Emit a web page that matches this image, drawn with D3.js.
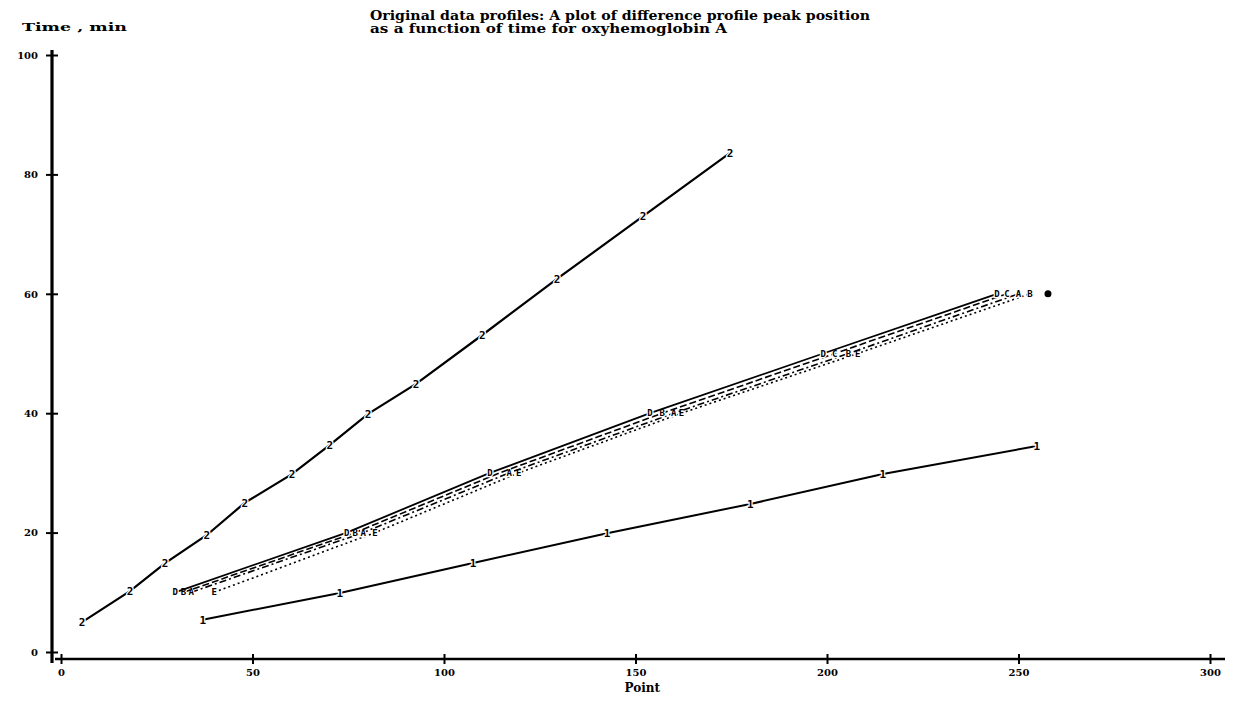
<!DOCTYPE html>
<html>
<head>
<meta charset="utf-8">
<script src="https://cdn.jsdelivr.net/npm/d3@7"></script>
<style>
  body { margin: 0; background: #fff; }
  svg { display: block; }
  .tick text { font-family: "DejaVu Serif", serif; font-weight: bold; font-size: 10px; }
</style>
</head>
<body>
<svg id="chart" width="1236" height="702"></svg>
<script>
// axis ticks
const xTicks = [0, 50, 100, 150, 200, 250, 300]
const yTicks = [0, 20, 40, 60, 80, 100]

// series "1"
const s1X = [37, 72.8, 107.6, 142.6, 180, 214.6, 254.8]
const s1Y = [5.4, 9.9, 14.9, 19.9, 24.8, 29.8, 34.5]

// series "2"
const s2X = [5.5, 18, 27.2, 38.1, 48, 60.3, 70.2, 80.2, 92.7, 110, 129.5, 152, 174.7]
const s2Y = [5, 10.2, 14.9, 19.6, 25, 29.8, 34.7, 39.9, 44.9, 53.1, 62.5, 73, 83.6]

// DBA group: four lines sharing the same times
const dbaY = [10, 20, 30, 40, 50, 60]
const dbaSolidX = [29.8, 74.6, 112, 153.8, 199, 244.4]
const dbaDashX = [32, 76.8, 114.5, 157, 202, 247]
const dbaDashDotX = [34, 78.9, 117, 160, 205.6, 250]
const dbaDotX = [40, 82, 119.5, 162, 208, 253]
const dbaSolidMarks = ["D", "D", "D", "D", "D", "D"]
const dbaDashMarks = ["B", "B", "", "B", "C", "C"]
const dbaDashDotMarks = ["A", "A", "A", "A", "B", "A"]
const dbaDotMarks = ["E", "E", "E", "E", "E", "B"]
const dbaEndDot = [257.7, 60]

const svg = d3.select("#chart")

const x = d3.scaleLinear().domain([0, 300]).range([61, 1210])
const y = d3.scaleLinear().domain([0, 100]).range([652, 55])

// titles
const title = svg.append("g")
  .style("font-family", "'DejaVu Serif', serif")
  .style("font-weight", "bold")
  .style("font-size", "12px")
title.append("text").attr("x", 370).attr("y", 20)
  .attr("textLength", 500).attr("lengthAdjust", "spacingAndGlyphs")
  .text("Original data profiles: A plot of difference profile peak position")
title.append("text").attr("x", 370).attr("y", 33)
  .attr("textLength", 357).attr("lengthAdjust", "spacingAndGlyphs")
  .text("as a function of time for oxyhemoglobin A")

svg.append("text")
  .attr("x", 22).attr("y", 31)
  .attr("textLength", 105).attr("lengthAdjust", "spacingAndGlyphs")
  .style("font-family", "'DejaVu Serif', serif")
  .style("font-weight", "bold")
  .style("font-size", "11px")
  .text("Time , min")

svg.append("text")
  .attr("x", x(150) - 11).attr("y", 692)
  .style("font-family", "'DejaVu Serif', serif")
  .style("font-weight", "bold")
  .style("font-size", "12px")
  .text("Point")

// y axis (drawn left of x = 0)
const yAxisX = 52
const gy = svg.append("g")
  .attr("transform", `translate(${yAxisX},0)`)
  .call(d3.axisLeft(y).tickValues(yTicks).tickSize(6).tickPadding(8))
gy.select(".domain").remove()
gy.selectAll(".tick line").attr("x1", 6).attr("stroke", "#000").attr("stroke-width", 2)
svg.append("line")
  .attr("x1", yAxisX).attr("x2", yAxisX)
  .attr("y1", y(100) - 5).attr("y2", y(0) + 11)
  .attr("stroke", "#000").attr("stroke-width", 3.2)

// x axis (drawn below y = 0)
const xAxisY = 659
const gx = svg.append("g")
  .attr("transform", `translate(0,${xAxisY})`)
  .call(d3.axisBottom(x).tickValues(xTicks).tickSize(5).tickPadding(5))
gx.select(".domain").remove()
gx.selectAll(".tick line").attr("y1", -5).attr("stroke", "#000").attr("stroke-width", 2)
svg.append("line")
  .attr("x1", x(0) - 6).attr("x2", x(300) + 15)
  .attr("y1", xAxisY).attr("y2", xAxisY)
  .attr("stroke", "#000").attr("stroke-width", 2.6)

const line = d3.line().x(d => x(d.x)).y(d => y(d.y))

// a line with a character written at each data point
function drawSeries(xs, ys, marks, dash, width, fontSize) {
  const pts = xs.map((v, i) => ({x: v, y: ys[i], mark: marks[i]}))
  svg.append("path")
    .datum(pts)
    .attr("d", line)
    .attr("fill", "none")
    .attr("stroke", "#000")
    .attr("stroke-width", width)
    .attr("stroke-dasharray", dash)
  svg.append("g").selectAll("text")
    .data(pts.filter(d => d.mark !== ""))
    .enter()
    .append("text")
    .attr("x", d => x(d.x))
    .attr("y", d => y(d.y))
    .attr("dy", "0.35em")
    .attr("text-anchor", "middle")
    .style("font-family", "'DejaVu Sans Mono', monospace")
    .style("font-weight", "bold")
    .style("font-size", fontSize + "px")
    .style("paint-order", "stroke")
    .attr("stroke", "#fff")
    .attr("stroke-width", 2.5)
    .attr("fill", "#000")
    .text(d => d.mark)
}

drawSeries(s1X, s1Y, s1X.map(() => "1"), null, 2, 11)
drawSeries(s2X, s2Y, s2X.map(() => "2"), null, 2.2, 11)
drawSeries(dbaDotX, dbaY, dbaDotMarks, "2,3", 1.6, 9)
drawSeries(dbaDashDotX, dbaY, dbaDashDotMarks, "7,3,2,3", 1.6, 9)
drawSeries(dbaDashX, dbaY, dbaDashMarks, "7,3", 1.6, 9)
drawSeries(dbaSolidX, dbaY, dbaSolidMarks, null, 1.8, 9)

svg.append("circle")
  .attr("cx", x(dbaEndDot[0])).attr("cy", y(dbaEndDot[1]))
  .attr("r", 3.5).attr("fill", "#000")
</script>
</body>
</html>
